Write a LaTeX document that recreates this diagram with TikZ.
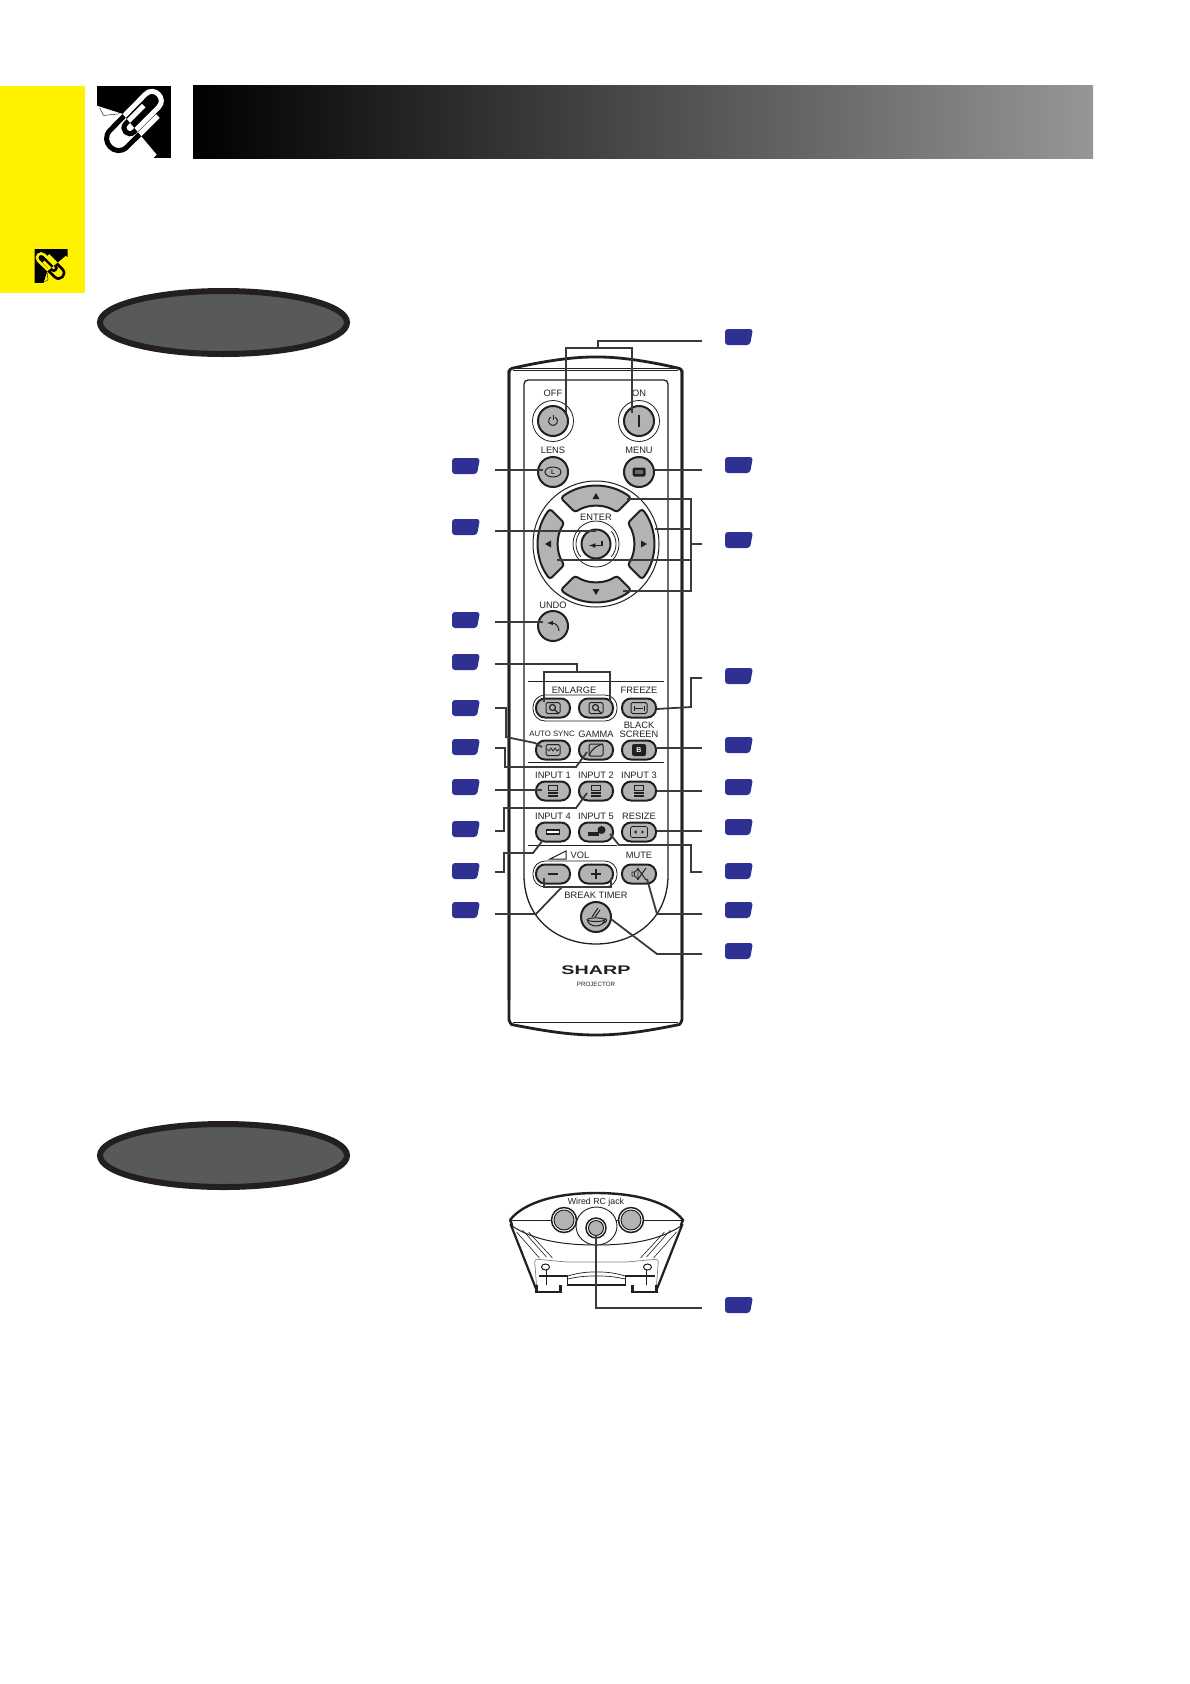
\documentclass[tikz,border=0pt]{standalone}
\usepackage{fontspec}
\setmainfont{Liberation Sans}
\usetikzlibrary{shapes.geometric}
\definecolor{tagblue}{HTML}{2E3192}
\definecolor{inkdark}{HTML}{231F20}
\definecolor{ovalgray}{HTML}{58595B}
\definecolor{keygray}{HTML}{B3B3B3}
\definecolor{leadgray}{HTML}{3A3A3A}
\definecolor{bargray}{HTML}{969696}
\definecolor{pageyellow}{HTML}{FFF200}
\tikzset{
	tagbox/.style={minimum width=28pt, minimum height=16pt, inner sep=0pt, path picture={
		\fill[tagblue, rounded corners=3pt] (path picture bounding box.north west) -- (path picture bounding box.north east) -- ([xshift=-3pt]path picture bounding box.south east) -- (path picture bounding box.south west) -- cycle;}},
	oval/.style={draw=inkdark, fill=ovalgray, ellipse, line width=6pt, minimum width=247pt, minimum height=63pt, inner sep=0pt},
	roundkey/.style={draw=inkdark, fill=keygray, circle, line width=2pt, minimum size=30pt, inner sep=0pt},
	pillkey/.style={draw=inkdark, fill=keygray, rectangle, rounded corners=9pt, line width=2pt, minimum width=34pt, minimum height=19pt, inner sep=0pt},
	lbl/.style={text=inkdark, inner sep=0pt, font=\fontsize{9.3}{10}\selectfont},
	lead/.style={draw=leadgray, line width=1.8pt},
	face/.style={shift={(#1)}, x=1pt, y=1pt},
	ico/.style={draw=inkdark, line width=1pt},
}
% paper clip: x, y, scale, turn, colour on the black part, line width
\newcommand{\clipwire}{(73,-18) -- (-21.3,76.2) .. controls (-55.6,110.5) and (-107,59.1) .. (-72.7,24.8) -- (35,-85) .. controls (61.4,-111.4) and (101.4,-71.4) .. (75,-45) -- (-0.5,30.5) .. controls (-17.2,47.2) and (-42.2,22.2) .. (-25.5,5.5) -- (30,-50)}
\newcommand{\clipback}{(-113,-110) -- (113,-110) -- (113,110) -- (60,110) -- (70,100) -- (-35,-25) -- (-113,-50) -- cycle}
\newcommand{\papericon}[6]{
	\begin{scope}[shift={(#1,#2)}, scale=#3, rotate=#4]
		\fill[black] \clipback;
		\draw[black, line width=#6] \clipwire;
		\begin{scope}
			\clip \clipback;
			\draw[#5, line width=#6] \clipwire;
		\end{scope}
		\draw[black, line width=0.4pt] (-105,-43) -- (-93,-20) -- (-45,-25);
	\end{scope}
}
\begin{document}
\begin{tikzpicture}[x=1pt, y=-1pt]
	\useasboundingbox (0,0) rectangle (1190,1684);
	% page furniture
	\fill[pageyellow] (0,86) rectangle (85,293);
	\shade[left color=black, right color=bargray] (193,85) rectangle (1093,158);
	\papericon{134}{122}{0.327}{0}{white}{5pt}
	\papericon{51}{266}{0.1500}{90}{pageyellow}{2.6pt}
	\node[oval] (ovalTop)at(223.5, 322.5) {};
	\node[oval] (ovalBottom)at(223.5, 1155.5) {};

	% remote body
	\draw[inkdark, line width=2.8pt, rounded corners=3pt] (509,1000) -- (509,369) .. controls (540,362) and (570,357) .. (596,357) .. controls (622,357) and (652,362) .. (682,369) -- (682,1000);
	\draw[inkdark, line width=2.8pt] (509,370) -- (509,1020) .. controls (511,1025) and (512,1025) .. (514,1025) .. controls (545,1031) and (570,1035) .. (596,1035) .. controls (622,1035) and (647,1031) .. (677,1025) .. controls (679,1025) and (680,1025) .. (682,1020) -- (682,370);
	\draw[inkdark, line width=0.8pt] (513,368) -- (678,368) (513,370.5) -- (678,370.5) (513,1022) -- (678,1022);
	\draw[inkdark, line width=1.3pt, rounded corners=4pt] (524,875) -- (524,380) -- (668,380) -- (668,875);
	\draw[inkdark, line width=1.3pt] (524,875) .. controls (524,967) and (668,967) .. (668,875);
	\draw[inkdark, line width=0.8pt] (528,681) -- (664,681) (528,762) -- (664,762) (528,845) -- (617,845);

	% capsules round the paired keys
	\draw[inkdark, line width=0.8pt, fill=white, rounded corners=12pt] (533,695) rectangle (617,721);
	\draw[inkdark, line width=0.8pt, fill=white, rounded corners=12pt] (533,861) rectangle (617,887);

	% round keys
	\draw[inkdark, line width=0.8pt] (553,421) circle[radius=20.5] (639,421) circle[radius=20.5];
	\node[roundkey] (off)at(553, 421) {};
	\node[roundkey] (on)at(639, 421) {};
	\node[roundkey] (lens)at(553, 472) {};
	\node[roundkey] (menu)at(639, 472) {};
	\node[roundkey] (undo)at(553, 626) {};
	\node[roundkey] (brk)at(596, 917) {};

	% arrow pad
	\begin{scope}[face={596,544}]
		\draw[inkdark, line width=1pt, fill=white] (0,0) circle[radius=63];
		\foreach \ang in {90,0,180,270} {
			\draw[inkdark, fill=keygray, line width=2pt, rounded corners=3pt, rotate=\ang] (-37.5:58) arc[start angle=-37.5, end angle=37.5, radius=58] -- (33.5:38) arc[start angle=33.5, end angle=-33.5, radius=38] -- cycle;
			\fill[inkdark, rotate=\ang] (45,-3.5) -- (51,0) -- (45,3.5) -- cycle;
		}
		\draw[inkdark, line width=0.8pt] (0,0) circle[radius=23];
		\draw[inkdark, line width=0.8pt] (140:20) arc[start angle=140, end angle=220, radius=20] (-40:20) arc[start angle=-40, end angle=40, radius=20];
	\end{scope}
	\node[roundkey, minimum size=29pt] (enter)at(596, 544) {};

	% pill keys
	\node[pillkey] (enlM)at(553, 708) {};
	\node[pillkey] (enlP)at(596, 708) {};
	\node[pillkey] (freeze)at(639, 708) {};
	\node[pillkey] (auto)at(553, 750) {};
	\node[pillkey] (gamma)at(596, 750) {};
	\node[pillkey] (black)at(639, 750) {};
	\node[pillkey] (input1)at(553, 791) {};
	\node[pillkey] (input2)at(596, 791) {};
	\node[pillkey] (input3)at(639, 791) {};
	\node[pillkey] (input4)at(553, 832) {};
	\node[pillkey] (input5)at(596, 832) {};
	\node[pillkey] (resize)at(639, 832) {};
	\node[pillkey] (volM)at(553, 874) {};
	\node[pillkey] (volP)at(596, 874) {};
	\node[pillkey] (mute)at(639, 874) {};

	% key faces
	\begin{scope}[face=off.center]
		\draw[ico] (60:4.5) arc[start angle=60, end angle=-240, radius=4.5];
		\draw[ico] (0,1) -- (0,6);
	\end{scope}
	\draw[inkdark, line width=1.6pt] ([yshift=-6]on.center) -- ([yshift=6]on.center);
	\begin{scope}[face=lens.center]
		\draw[ico] (0,0) ellipse[x radius=8, y radius=5];
		\node[text=inkdark, inner sep=0pt, font=\fontsize{6.5}{7}\selectfont\bfseries] (lensL)at(0,0) {L};
	\end{scope}
	\begin{scope}[face=menu.center]
		\fill[inkdark, rounded corners=1.5pt] (-6.5,-4.5) rectangle (6.5,4.5);
		\fill[keygray!60!black] (-4,-1.5) rectangle (4,2);
	\end{scope}
	\begin{scope}[face=enter.center]
		\draw[inkdark, line width=1.2pt, -latex] (6,3.5) -- (6,-1.5) -- (-7,-1.5);
	\end{scope}
	\begin{scope}[face=undo.center]
		\draw[ico, -latex] (6,-5) .. controls (6,-1) and (3,3) .. (-6,3);
	\end{scope}
	\foreach \nm in {enlM,enlP} {
		\begin{scope}[face=\nm.center]
			\draw[ico, rounded corners=1.5pt] (-7,-5.5) rectangle (7,5.5);
			\draw[inkdark, line width=1.2pt] (-0.5,0.5) circle[radius=3];
			\draw[inkdark, line width=1.2pt] (1.5,-1.5) -- (5,-5);
		\end{scope}
	}
	\begin{scope}[face=freeze.center]
		\draw[ico, rounded corners=1.5pt] (-8,-5.5) rectangle (8,5.5);
		\draw[ico] (-5,-2.5) -- (-5,2.5) (5,-2.5) -- (5,2.5) (-4,0) -- (4,0);
	\end{scope}
	\begin{scope}[face=auto.center]
		\draw[ico, rounded corners=1.5pt] (-7,-5.5) rectangle (7,5.5);
		\draw[inkdark, line width=0.7pt] (-6,1) -- (-4,-1) -- (-2,2) -- (0,-1) -- (2,2) -- (4,-1) -- (6,1);
	\end{scope}
	\begin{scope}[face=gamma.center]
		\draw[ico, rounded corners=1.5pt] (-7,-6) rectangle (7,6);
		\draw[ico] (-7,-6) .. controls (-4,2) and (2,5) .. (7,6);
	\end{scope}
	\begin{scope}[face=black.center]
		\fill[inkdark, rounded corners=2pt] (-7,-6) rectangle (7,6);
		\node[text=white, inner sep=0pt, font=\fontsize{7}{7}\selectfont\bfseries] (blackB)at(0,0) {B};
	\end{scope}
	\foreach \nm in {input1,input2,input3} {
		\begin{scope}[face=\nm.center]
			\draw[ico] (-4.5,0.8) rectangle (4.5,5.5);
			\fill[inkdark] (-5,-5.5) rectangle (5,-0.5);
			\draw[keygray, line width=0.5pt] (-5,-3) -- (5,-3);
		\end{scope}
	}
	\begin{scope}[face=input4.center]
		\draw[inkdark, fill=white, line width=1.6pt] (-6.5,-2) rectangle (6.5,2);
	\end{scope}
	\begin{scope}[face=input5.center]
		\fill[inkdark] (-8,-4) rectangle (3,0);
		\fill[inkdark] (5.5,2) circle[radius=4];
	\end{scope}
	\begin{scope}[face=resize.center]
		\draw[ico, rounded corners=1.5pt, line width=0.7pt] (-8.5,-5.5) rectangle (8.5,5.5);
		\fill[inkdark] (-5,0) -- (-2.5,-1.8) -- (-2.5,1.8) -- cycle (5,0) -- (2.5,-1.8) -- (2.5,1.8) -- cycle;
	\end{scope}
	\draw[inkdark, line width=1.6pt] ([xshift=-5]volM.center) -- ([xshift=5]volM.center);
	\draw[inkdark, line width=1.6pt] ([xshift=-5]volP.center) -- ([xshift=5]volP.center) ([yshift=-5]volP.center) -- ([yshift=5]volP.center);
	\begin{scope}[face=mute.center]
		\draw[ico, line width=0.8pt] (-7,-2) rectangle (-4.5,2) (-4.5,-2) -- (-1,-5) -- (-1,5) -- (-4.5,2);
		\draw[ico] (-1.5,-6) -- (7,6) (-1.5,6) -- (7,-6);
	\end{scope}
	\begin{scope}[face=brk.center]
		\draw[ico] (0,-2.7) ellipse[x radius=8.7, y radius=1.8];
		\draw[ico] (-8.7,-2.7) .. controls (-8,-11) and (8,-11) .. (8.7,-2.7);
		\draw[ico] (8.5,-1.5) .. controls (12,-1.5) and (11,-6) .. (6,-6.5);
		\draw[ico] (-4,0) -- (2,9) (-1,0) -- (4,7);
	\end{scope}

	% key labels
	\node[lbl] (lblOff)at(553, 393) {OFF};
	\node[lbl] (lblOn)at(639, 393) {ON};
	\node[lbl] (lblLens)at(553, 450) {LENS};
	\node[lbl] (lblMenu)at(639, 450) {MENU};
	\node[lbl] (lblEnter)at(596, 517) {ENTER};
	\node[lbl] (lblUndo)at(553, 605) {UNDO};
	\node[lbl] (lblEnlarge)at(574, 690) {ENLARGE};
	\node[lbl] (lblFreeze)at(639, 690) {FREEZE};
	\node[lbl] (lblBlack)at(639, 725) {BLACK};
	\node[lbl] (lblScreen)at(639, 734) {SCREEN};
	\node[lbl, font=\fontsize{7.8}{9}\selectfont] (lblAuto)at(552, 734) {AUTO SYNC};
	\node[lbl] (lblGamma)at(596, 734) {GAMMA};
	\node[lbl] (lblInputA)at(553, 775) {INPUT 1};
	\node[lbl] (lblInputB)at(596, 775) {INPUT 2};
	\node[lbl] (lblInputC)at(639, 775) {INPUT 3};
	\node[lbl] (lblInputD)at(553, 816) {INPUT 4};
	\node[lbl] (lblInputE)at(596, 816) {INPUT 5};
	\node[lbl] (lblResize)at(639, 816) {RESIZE};
	\draw[inkdark, line width=1pt] (550,859) -- (566,851) -- (566,859) -- cycle;
	\node[lbl] (lblVol)at(580, 855) {VOL};
	\node[lbl] (lblMute)at(639, 855) {MUTE};
	\node[lbl] (lblBreak)at(596, 895) {BREAK TIMER};
	\node[lbl, font=\fontsize{12.5}{13}\selectfont\bfseries] (lblSharp)at(596, 970) {\scalebox{1.58}[1]{SHARP}};
	\node[lbl, font=\fontsize{6.2}{7}\selectfont] (lblProjector)at(596, 984) {PROJECTOR};

	% rear view of the remote
	\foreach \sx in {1,-1} {
		\begin{scope}[xshift=596.5pt, xscale=\sx]
			\draw[inkdark, line width=2.2pt] (-86,1224) -- (-60,1290);
			\draw[inkdark, line width=2.2pt] (-60,1285) -- (-60,1292) -- (-36,1292) -- (-36,1285);
			\draw[inkdark, line width=0.6pt] (-80,1232) -- (-57,1258) (-74,1230) -- (-50,1257) (-68,1232) -- (-44,1258);
			\draw[gray, line width=0.7pt, rounded corners=3pt] (-60,1285) -- (-62,1259) -- (-30,1262) -- (0,1262);
			\draw[inkdark, line width=1pt] (-51,1267) ellipse[x radius=4, y radius=3];
			\draw[inkdark, line width=0.6pt] (-50,1269) -- (-50,1285);
			\draw[inkdark, line width=1.3pt] (-58,1276) -- (-29,1276) -- (-29,1285) -- (0,1285);
			\draw[inkdark, line width=0.7pt] (-29,1276) .. controls (-15,1272) and (-8,1272) .. (0,1272);
			\draw[inkdark, line width=0.7pt] (-29,1279) .. controls (-15,1276) and (-8,1276) .. (0,1276);
		\end{scope}
	}
	\draw[inkdark, line width=1pt] (512,1226) .. controls (535,1241) and (565,1245) .. (596.5,1245) .. controls (628,1245) and (658,1241) .. (681,1226);
	\draw[inkdark, line width=2.4pt] (510,1220) .. controls (525,1201) and (560,1193) .. (596.5,1193) .. controls (633,1193) and (668,1201) .. (683,1220) .. controls (682,1222) and (681,1224) .. (681,1226);
	\draw[inkdark, line width=2.4pt] (510,1220) .. controls (511,1222) and (512,1224) .. (512,1226);
	\draw[inkdark, line width=1pt] (511,1220) -- (682,1220);
	\draw[inkdark, line width=0.9pt, fill=white] (596.5,1226) ellipse[x radius=20.5, y radius=19];
	\node[draw=inkdark, fill=white, circle, line width=1.5pt, minimum size=25pt, inner sep=0pt] (sideL)at(564, 1220) {};
	\node[draw=inkdark, fill=white, circle, line width=1.5pt, minimum size=25pt, inner sep=0pt] (sideR)at(631, 1220) {};
	\node[draw=inkdark, fill=white, circle, line width=1.5pt, minimum size=20pt, inner sep=0pt] (jack)at(596, 1228) {};
	\filldraw[fill=keygray, draw=inkdark, line width=1pt] (sideL.center) circle[radius=10];
	\filldraw[fill=keygray, draw=inkdark, line width=1pt] (sideR.center) circle[radius=10];
	\filldraw[fill=keygray, draw=inkdark, line width=1pt] (jack.center) circle[radius=7.5];
	\node[lbl, font=\fontsize{8.8}{10}\selectfont] (lblWired)at(596, 1202) {Wired RC jack};

	% number tags
	\foreach \nm/\yy in {tagPower/337, tagMenu/465, tagPad/540, tagFreeze/676, tagBlack/745, tagInputC/787, tagResize/827, tagInputE/871, tagMute/910, tagBreak/951, tagJack/1305}
		\node[tagbox] (\nm)at(739, \yy) {};
	\foreach \nm/\yy in {tagLens/466, tagEnter/527, tagUndo/620, tagEnlarge/662, tagAuto/708, tagGamma/747, tagInputA/787, tagInputB/829, tagInputD/871, tagVol/910}
		\node[tagbox] (\nm)at(466, \yy) {};

	% free ends of the leaders, next to the tags
	\foreach \nm/\yy in {endPower/341, endMenu/470, endPad/544, endFreeze/678, endBlack/748, endInputC/791, endResize/831, endInputE/872, endMute/914, endBreak/954, endJack/1308}
		\coordinate (\nm) at (702, \yy);
	\foreach \nm/\yy in {endLens/470, endEnter/531, endUndo/622, endEnlarge/664, endAuto/708, endGamma/748, endInputA/790, endInputB/831, endInputD/872, endVol/914}
		\coordinate (\nm) at (495, \yy);
	\coordinate (padUp) at (627, 499);
	\coordinate (padRight) at (655, 529);
	\coordinate (padLeft) at (557, 560);
	\coordinate (padDown) at (623, 591);

	% leaders, right side
	\draw[lead] (endPower) -| (598, 348);
	\draw[lead] ([shift={(13,-8)}]off.center) -- (566, 348) -- (632, 348) -- ([shift={(-7,-8)}]on.center);
	\draw[lead] (endMenu) -- (menu.east |- endMenu);
	\draw[lead] (endPad) -- (691, 544);
	\draw[lead] (padUp) -| (691, 591) -- (padDown);
	\draw[lead] (padRight) -- (691, 529);
	\draw[lead] (padLeft) -- (691, 560);
	\draw[lead] (endFreeze) -- (691, 678) -- (691, 707) -- ([yshift=-1]freeze.east);
	\draw[lead] (endBlack) -- (black.east |- endBlack);
	\draw[lead] (endInputC) -- (input3.east);
	\draw[lead] (endResize) -- (resize.east |- endResize);
	\draw[lead] (endInputE) -- (691, 872) -- (691, 845) -- (619, 845) -- ([shift={(14,2)}]input5.center);
	\draw[lead] (endMute) -- (657, 914) -- ([shift={(8,5)}]mute.center);
	\draw[lead] (endBreak) -- (657, 954) -- ([shift={(15,2)}]brk.center);
	\draw[lead] ([shift={(0,7)}]jack.center) -- (596, 1308) -- (endJack);

	% leaders, left side
	\draw[lead] (endLens) -- ([shift={(-10,-2)}]lens.center);
	\draw[lead] (endEnter) -- (enter.north |- endEnter);
	\draw[lead] (endUndo) -- ([shift={(-10,-4)}]undo.center);
	\draw[lead] (endEnlarge) -- (577, 664) -- (577, 672);
	\draw[lead] ([shift={(-9,-6)}]enlM.center) -- (544, 672) -- (610, 672) -- ([shift={(14,-6)}]enlP.center);
	\draw[lead] (endAuto) -- (506, 708) -- (506, 737) -- (535, 743) -- ([shift={(-11,-3)}]auto.center);
	\draw[lead] (endGamma) -- (505, 748) -- (505, 767) -- (576, 767) -- ([shift={(-9,2)}]gamma.center);
	\draw[lead] (endInputA) -- ([shift={(-11,-1)}]input1.center);
	\draw[lead] (endInputB) -- (504, 831) -- (504, 808) -- (576, 808) -- ([shift={(-9,2)}]input2.center);
	\draw[lead] (endInputD) -- (504, 872) -- (504, 853) -- (533, 853) -- ([shift={(-10,8)}]input4.center);
	\draw[lead] (endVol) -- (536, 914) -- (562, 887);
	\draw[lead] ([shift={(-9,4)}]volM.center) -- (544, 887) -- (611, 887) -- ([shift={(15,4)}]volP.center);
\end{tikzpicture}
\end{document}
